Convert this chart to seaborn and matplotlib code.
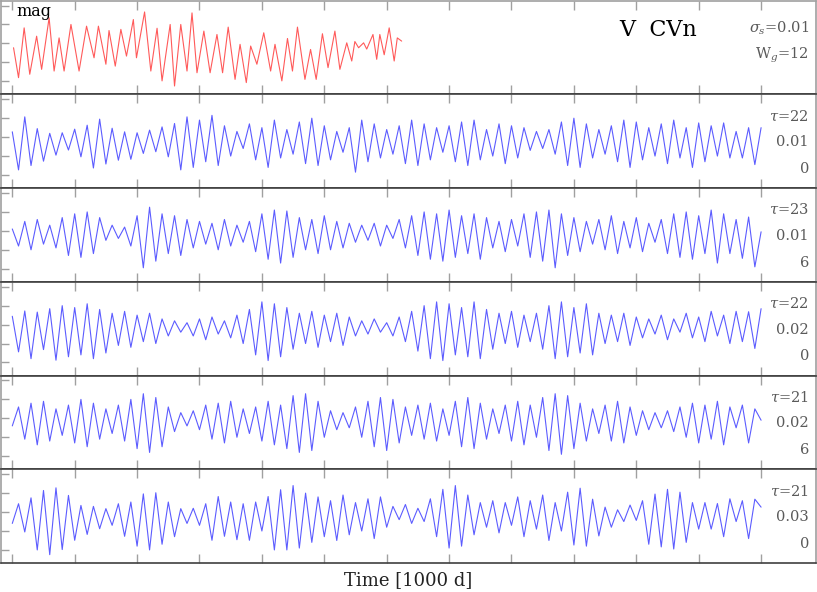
import numpy as np
import pandas as pd
import matplotlib
matplotlib.use("Agg")
import matplotlib.pyplot as plt
import seaborn as sns

# ---------------- data ----------------
obs_time = [0.02, 0.10, 0.19, 0.28, 0.39, 0.47, 0.59, 0.67, 0.75, 0.83, 0.94, 1.07, 1.19, 1.31,
            1.38, 1.50, 1.55, 1.65, 1.74, 1.83, 1.94, 1.99, 2.12, 2.22, 2.32, 2.40, 2.53, 2.60,
            2.70, 2.80, 2.88, 2.96, 3.07, 3.17, 3.28, 3.37, 3.46, 3.57, 3.65, 3.75, 3.82, 3.92,
            4.03, 4.14, 4.21, 4.32, 4.41, 4.49, 4.57, 4.69, 4.78, 4.87, 4.97, 5.06, 5.17, 5.25,
            5.36, 5.44, 5.49, 5.55, 5.63, 5.68, 5.78, 5.84, 5.89, 5.96, 6.04, 6.12, 6.17, 6.24]
obs_mag = [-0.23, -1.81, 0.82, -1.63, 0.38, -1.37, 1.35, -1.46, 0.29, -1.46, 1.0, -1.46, 0.91,
           -0.76, 0.91, -1.1, 0.68, -1.2, 0.74, -0.67, 1.26, -0.76, 1.66, -1.46, 0.8, -1.98, 1.0,
           -2.25, 1.0, -1.46, 1.61, -1.55, 0.65, -1.55, 0.47, -1.55, 0.86, -1.9, -0.05, -2.07,
           -0.14, -1.1, 0.56, -1.46, -0.05, -1.98, 0.26, -1.46, 0.86, -1.9, -0.32, -1.9, 0.51,
           -1.28, 0.65, -1.37, 0.03, -0.93, 0.1, -0.23, 0.03, -0.3, 0.47, -0.84, 0.47, -0.6,
           0.82, -0.93, 0.29, 0.12]

model_a = [0.28, -1.73, 1.07, -1.5, 0.45, -1.27, 0.2, -0.95, 0.23, -0.68,
           0.42, -1.04, 0.63, -1.63, 0.95, -1.42, 0.47, -1.22, 0.28, -1.17,
           0.23, -0.86, 0.37, -0.77, 0.54, -1.04, 0.72, -1.73, 1.07, -1.6,
           0.9, -1.3, 1.15, -1.5, 0.6, -1.0, 0.3, -0.6, 0.7, -1.2,
           0.5, -1.6, 0.9, -1.1, 0.4, -0.9, 0.8, -1.4, 1.0, -1.5,
           0.6, -1.2, 0.3, -0.8, 0.5, -1.85, 0.9, -1.3, 0.7, -1.1,
           0.4, -0.9, 0.6, -1.4, 0.9, -1.5, 0.7, -1.2, 0.5, -0.8,
           0.6, -1.3, 0.8, -1.5, 0.9, -1.2, 0.4, -1.0, 0.7, -1.4,
           0.6, -1.1, 0.5, -0.7, 0.3, -0.6, 0.4, -0.9, 0.8, -1.5,
           1.0, -1.6, 0.7, -1.1, 0.4, -0.9, 0.6, -1.3, 0.9, -1.6,
           0.8, -1.2, 0.5, -1.0, 0.7, -1.4, 0.9, -1.1,
           0.5, -1.6, 0.75, -1.3, 0.6, -1.0, 0.75, -1.1, 0.3, -1.1, 0.5, -1.45, 0.5]

model_b = [0.1, -0.8, 0.5, -1.0, 0.6, -0.7, 0.3, -0.9, 0.7, -1.3,
           0.9, -1.4, 1.0, -1.2, 0.7, -0.5, 0.3, -0.4, 0.2, -0.8,
           0.8, -1.95, 1.25, -1.6, 0.9, -1.2, 0.8, -1.3, 0.6, -0.9,
           0.5, -0.7, 0.4, -1.0, 0.6, -0.8, 0.3, -0.6, 0.5, -1.1,
           0.9, -1.5, 1.1, -1.7, 1.05, -1.4, 0.7, -1.0, 0.6, -1.2,
           0.8, -1.0, 0.5, -0.9, 0.4, -0.6, 0.3, -0.5, 0.4, -0.8,
           0.3, -0.4, 0.6, -0.9, 0.8, -1.3, 1.0, -1.5, 0.9, -1.6,
           1.1, -1.4, 0.8, -1.2, 0.9, -1.5, 0.7, -0.9, 0.5, -1.1,
           0.6, -0.8, 0.9, -1.4, 1.0, -1.6, 1.1, -1.95, 0.9, -1.3,
           0.7, -1.1, 0.5, -0.7, 0.6, -1.0, 0.8, -1.2, 0.5, -0.9,
           0.7, -1.1, 0.4, -0.6, 0.6, -1.2, 0.9, -1.4, 1.0, -1.5,
           0.8, -1.2, 1.1, -1.7, 0.9, -1.2, 0.6, -1.45, 0.73, -1.9, -0.05]

model_c = [0.44, -1.44, 0.72, -1.8, 0.66, -1.32, 0.84, -1.88, 1.0, -1.7,
           0.9, -1.6, 1.1, -1.8, 0.8, -1.5, 0.6, -1.1, 0.7, -1.2,
           0.5, -0.9, 0.6, -1.0, 0.3, -0.6, 0.2, -0.4, 0.1, -0.6,
           0.3, -0.8, 0.4, -0.5, 0.2, -0.7, 0.5, -1.0, 0.8, -1.6,
           1.2, -1.9, 1.1, -1.7, 0.9, -1.3, 0.6, -1.0, 0.7, -1.2,
           0.5, -0.9, 0.6, -1.1, 0.4, -0.6, 0.2, -0.5, 0.3, -0.4,
           0.1, -0.6, 0.4, -0.9, 0.7, -1.4, 1.0, -1.8, 1.2, -1.9,
           1.1, -1.6, 0.9, -1.7, 1.2, -1.8, 0.8, -1.3, 0.6, -1.0,
           0.7, -1.2, 0.5, -0.9, 0.6, -1.3, 1.0, -1.8, 1.2, -1.7,
           0.9, -1.5, 1.1, -1.6, 0.6, -1.0, 0.5, -0.9, 0.6, -1.1,
           0.4, -0.7, 0.3, -0.5, 0.5, -0.8, 0.3, -0.4, 0.6, -0.7,
           0.4, -0.9, 0.7, -0.6, 0.5, -1.0, 0.7, -0.9, 0.68, -1.26, 0.84]

model_d = [-0.4, 0.6, -1.1, 0.8, -1.4, 0.9, -1.2, 0.5, -0.9, 0.7,
           -1.3, 1.0, -1.5, 0.8, -1.1, 0.5, -0.8, 0.7, -1.2, 1.0,
           -1.6, 1.3, -1.8, 1.1, -1.5, 0.6, -0.7, 0.3, -0.4, 0.4,
           -0.6, 0.7, -1.1, 0.8, -1.3, 0.9, -1.0, 0.5, -0.8, 0.6,
           -1.2, 0.9, -1.4, 0.7, -1.6, 1.2, -1.8, 1.3, -1.7, 0.9,
           -1.0, 0.4, -0.6, 0.3, -0.5, 0.6, -1.0, 0.9, -1.5, 1.1,
           -1.7, 1.0, -1.3, 0.6, -0.9, 0.7, -1.1, 0.8, -1.2, 0.5,
           -0.9, 0.9, -1.5, 1.1, -1.6, 0.8, -1.1, 0.5, -0.8, 0.7,
           -1.2, 0.9, -1.4, 0.7, -1.0, 1.1, -1.7, 1.3, -1.9, 1.2,
           -1.6, 0.8, -1.2, 0.5, -0.8, 0.7, -1.2, 0.9, -1.3, 0.6,
           -0.9, 0.4, -0.6, 0.3, -0.5, 0.4, -0.7, 0.6, -1.0, 0.8,
           -1.3, 0.7, -1.1, 0.9, -1.4, 0.6, -0.5, 0.7, -1.3, 0.5, -0.1]

model_e = [-0.6, 0.44, -1.05, 0.75, -2.0, 1.14, -2.25, 1.28, -1.98, 0.88,
           -1.49, 0.35, -1.18, 0.3, -0.88, 0.18, -0.7, 0.44, -1.28, 0.53,
           -1.8, 0.96, -2.0, 1.02, -1.7, 0.53, -1.3, 0.18, -0.6, 0.2,
           -0.7, 0.44, -1.49, 0.82, -1.28, 0.53, -1.46, 0.44, -1.49, 0.53,
           -1.0, 0.82, -2.0, 1.18, -2.0, 1.4, -1.9, 1.0, -1.6, 0.8,
           -1.3, 0.6, -1.5, 0.9, -1.2, 0.5, -1.0, 0.7, -1.4, 0.8,
           -0.8, 0.3, -0.4, 0.4, -0.6, 0.2, -0.5, 0.7, -1.3, 1.2,
           -1.9, 1.4, -1.8, 0.9, -1.2, 0.5, -0.8, 0.6, -1.1, 0.5,
           -0.7, 0.8, -1.3, 0.6, -0.9, 0.9, -1.5, 0.5, -1.0, 1.05,
           -1.74, 1.26, -1.8, 0.68, -1.26, 0.26, -0.8, 0.12, -0.5, 0.37,
           -0.44, 0.6, -1.7, 0.95, -1.84, 1.2, -1.95, 1.05, -1.6, 0.5,
           -0.9, 0.5, -0.9, 0.45, -1.3, 0.7, -0.5, 0.6, -1.4, 0.68, 0.26]

model_series = [model_a, model_b, model_c, model_d, model_e]
tau_labels = ["22", "23", "22", "21", "21"]
sigma_labels = ["0.01", "0.01", "0.02", "0.02", "0.03"]
extra_labels = ["0", "6", "0", "6", "0"]
x_ticks = list(range(0, 13))
y_ticks = [-2, -1, 0, 1, 2]

# ---------------- style ----------------
sns.set_style("white")
plt.rcParams["font.family"] = ["DejaVu Serif"]
plt.rcParams["mathtext.fontset"] = "dejavuserif"

W, H = 817, 592
fig, axes = plt.subplots(6, 1, figsize=(W / 100, H / 100), dpi=100, sharex=True)
fig.subplots_adjust(left=1 / W, right=816 / W, top=1 - 0.6 / H, bottom=1 - 563 / H, hspace=0)

red = "#ff5a5a"
blue = "#5c5cff"
grey_txt = "#5a5a5a"

obs_df = pd.DataFrame({"time": obs_time, "mag": obs_mag})
sns.lineplot(data=obs_df, x="time", y="mag", ax=axes[0], color=red, linewidth=0.8,
             estimator=None, sort=False)

for i, vals in enumerate(model_series):
    df = pd.DataFrame({"time": np.linspace(0, 12, len(vals)), "mag": vals})
    sns.lineplot(data=df, x="time", y="mag", ax=axes[i + 1], color=blue, linewidth=0.8,
                 estimator=None, sort=False)

for k, ax in enumerate(axes):
    ax.set_xlim(-0.181, 12.88)
    ax.set_ylim(-2.69, 2.26)
    ax.set_xticks(x_ticks)
    ax.set_yticks(y_ticks)
    ax.set_xticklabels([])
    ax.set_yticklabels([])
    ax.set_xlabel("")
    ax.set_ylabel("")
    ax.tick_params(axis="x", which="both", direction="in", top=True, bottom=True,
                   length=6.5, width=1.0, color="#a0a0a0")
    ax.tick_params(axis="y", which="both", direction="in", left=True, right=False,
                   length=6, width=1.0, color="#a0a0a0")
    for side in ["left", "right"]:
        ax.spines[side].set_color("#a0a0a0")
        ax.spines[side].set_linewidth(1.2)
    for side in ["top", "bottom"]:
        ax.spines[side].set_color("#404040")
        ax.spines[side].set_linewidth(1.2)
    if k == 0:
        ax.spines["top"].set_color("#a0a0a0")

# top panel annotations
ax0 = axes[0]
ax0.text(0.0193, 0.84, "mag", transform=ax0.transAxes, ha="left", va="baseline",
         fontsize=11.5, color="black")
ax0.text(0.758, 0.617, "V  CVn", transform=ax0.transAxes, ha="left", va="baseline",
         fontsize=16, color="black")
ax0.text(0.9914, 0.66, r"$\sigma_s$=0.01", transform=ax0.transAxes, ha="right",
         va="baseline", fontsize=10.5, color=grey_txt)
ax0.text(0.9914, 0.383, r"W$_g$=12", transform=ax0.transAxes, ha="right",
         va="baseline", fontsize=10.5, color=grey_txt)

for i, ax in enumerate(axes[1:]):
    ax.text(0.9914, 0.723, r"$\tau$=" + tau_labels[i], transform=ax.transAxes,
            ha="right", va="baseline", fontsize=10.5, color=grey_txt)
    ax.text(0.9914, 0.447, sigma_labels[i], transform=ax.transAxes,
            ha="right", va="baseline", fontsize=10.5, color=grey_txt)
    ax.text(0.9914, 0.163, extra_labels[i], transform=ax.transAxes,
            ha="right", va="baseline", fontsize=10.5, color=grey_txt)

fig.text(408 / W, 1 - 585 / H, "Time [1000 d]", ha="center", va="baseline",
         fontsize=13, color="#222222")

fig.savefig("out.png", dpi=100)
